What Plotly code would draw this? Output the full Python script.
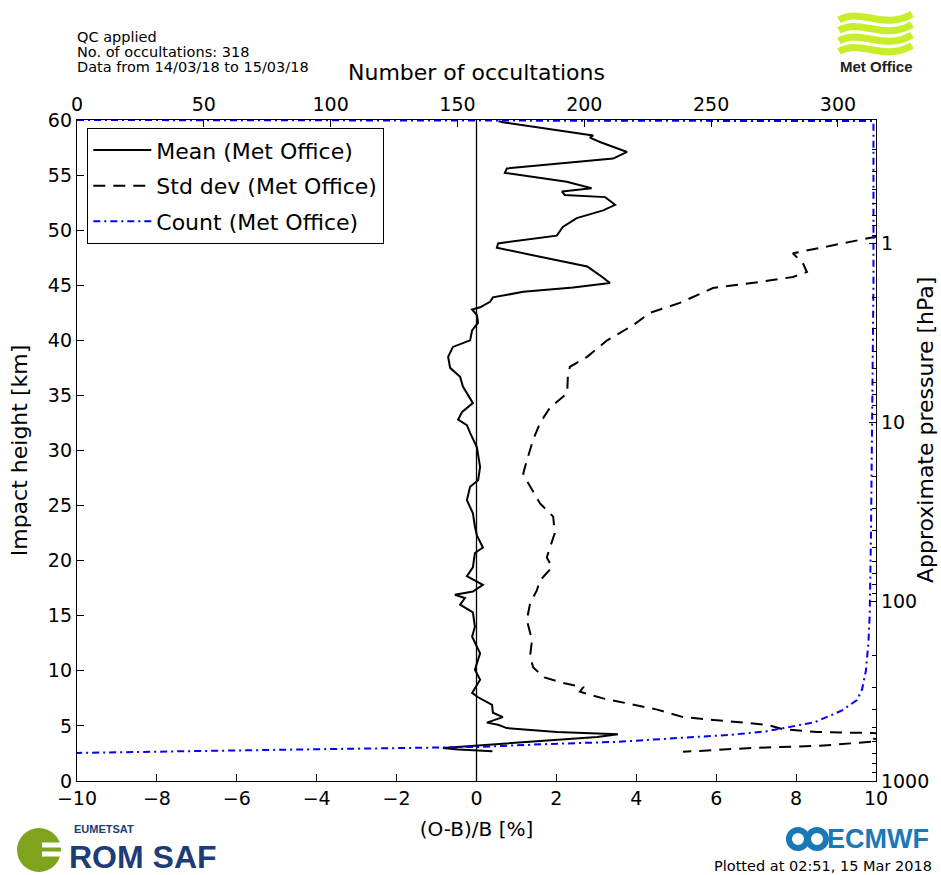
import plotly.graph_objects as go

# ---------------- data ----------------
mean_h = [59.9, 59.8, 58.6, 58.4, 58.0, 57.1, 56.5, 55.6, 55.2, 54.4, 53.8, 53.5, 53.2, 53.0,
          52.3, 51.8, 51.1, 50.3, 49.5, 49.3, 48.8, 48.4, 47.6, 46.7, 45.9, 45.2, 44.8, 44.4,
          43.9, 43.5, 43.0, 42.8, 42.3, 41.6, 40.9, 40.0, 39.4, 38.5, 37.5, 36.7, 35.8, 34.3,
          33.5, 32.8, 32.3, 31.6, 30.3, 28.5, 27.3, 26.7, 25.5, 24.3, 23.1, 22.3, 21.2, 20.7,
          19.4, 18.6, 17.8, 17.2, 16.9, 16.6, 16.0, 15.3, 14.0, 13.1, 12.2, 11.6, 10.1, 9.2,
          8.0, 7.6, 6.9, 6.2, 5.8, 5.3, 5.1, 4.8, 4.45, 4.35, 4.25, 4.0, 3.45, 3.27, 3.0,
          2.85, 2.7]
mean_v = [0.55, 0.66, 2.92, 2.84, 3.09, 3.77, 3.42, 0.76, 0.71, 2.26, 2.88, 2.14, 2.21, 3.22,
          3.47, 3.17, 2.51, 2.16, 2.01, 1.59, 0.54, 0.51, 1.59, 2.77, 3.09, 3.34, 2.42, 1.17,
          0.41, 0.34, 0.09, -0.11, 0.01, 0.04, -0.11, -0.16, -0.59, -0.71, -0.66, -0.41, -0.34,
          -0.09, -0.36, -0.46, -0.24, -0.16, 0.01, 0.09, 0.04, -0.16, -0.24, -0.09, -0.04, 0.01,
          0.16, -0.04, -0.09, -0.24, 0.16, -0.09, -0.54, -0.29, -0.41, -0.09, -0.04, -0.11,
          0.01, 0.09, -0.04, 0.09, -0.11, 0.04, 0.39, 0.41, 0.66, 0.26, 0.54, 0.76, 2.01, 3.02,
          3.54, 3.02, 0.76, 0.01, -0.84, -0.45, 0.4]

std_h = [50.5, 49.4, 48.7, 47.9, 47.0, 46.2, 45.75, 45.3, 44.75, 44.1, 43.4, 42.5, 41.4, 40.0,
         38.5, 37.6, 37.0, 35.2, 33.9, 32.5, 31.0, 29.1, 27.9, 27.0, 26.2, 25.2, 24.0, 22.5,
         21.2, 20.3, 19.4, 18.2, 17.3, 16.1, 14.6, 12.8, 11.3, 10.3, 9.4, 8.9, 8.5, 8.1, 7.5,
         6.9, 6.5, 5.8, 5.5, 5.1, 4.7, 4.45, 4.35, 4.25, 4.0, 3.85, 3.7, 3.55, 3.4, 3.2, 3.0,
         2.65]
std_v = [11.5, 10.0, 9.02, 7.92, 8.17, 8.27, 7.92, 7.1, 5.92, 5.52, 5.09, 4.34, 3.93, 3.27,
         2.77, 2.34, 2.29, 2.27, 1.84, 1.59, 1.42, 1.26, 1.17, 1.3, 1.42, 1.59, 1.92, 1.96,
         1.84, 1.76, 1.89, 1.59, 1.51, 1.34, 1.26, 1.39, 1.34, 1.42, 1.7, 2.16, 2.67, 2.59,
         3.17, 4.02, 4.5, 5.17, 6.02, 7.27, 7.67, 8.52, 9.92, 10.5, 10.6, 9.9, 10.4, 9.8, 9.3,
         8.6, 6.9, 5.17]

count_h = [60.0, 59.9, 45.0, 30.0, 22.0, 15.0, 12.5, 10.0, 8.9, 8.3, 7.35, 6.4, 5.35, 4.8,
           4.5, 4.2, 3.9, 3.55, 3.36, 3.1, 2.85, 2.55]
count_v = [0, 314, 314, 313.5, 313, 312.5, 312, 311, 310, 309.5, 307.5, 301.6, 291, 278, 271.6,
           258, 238.6, 212.6, 186, 160, 85, 0]

x_ticks = [-10, -8, -6, -4, -2, 0, 2, 4, 6, 8, 10]
count_ticks = [0, 50, 100, 150, 200, 250, 300]
height_ticks = list(range(0, 61, 5))
p_ticks = [1, 10, 100, 1000]
p_minor = [m * d for d in (0.1, 1, 10, 100) for m in range(2, 10) if 0.2 < m * d < 1000]

KM_PER_DECADE = 16.27
FONT = "DejaVu Sans"

# plot-area pixel geometry (for decorations only)
L, R, T, B = 77, 876, 120, 781


def px(x):
    return (x - L) / (R - L)


def py(y):
    return (B - y) / (B - T)


fig = go.Figure()
fig.add_trace(go.Scatter(x=mean_v, y=mean_h, mode="lines", name="Mean (Met Office)",
                         line=dict(color="black", width=2), legendgroup="a"))
fig.add_trace(go.Scatter(x=std_v, y=std_h, mode="lines", name="Std dev (Met Office)",
                         line=dict(color="black", width=2, dash="12px,8px"), legendgroup="b"))
fig.add_trace(go.Scatter(x=count_v, y=count_h, mode="lines", name="Count (Met Office)",
                         xaxis="x2", yaxis="y",
                         line=dict(color="blue", width=2, dash="7px,4px,2px,4px"), legendgroup="c"))
# empty trace so that the pressure axis is drawn
fig.add_trace(go.Scatter(x=[], y=[], xaxis="x", yaxis="y2", showlegend=False,
                         hoverinfo="skip", mode="lines"))

axis_common = dict(showgrid=False, zeroline=False, showline=True, linecolor="black",
                   linewidth=1.3, ticks="inside", ticklen=7, tickcolor="black", automargin=False,
                   tickfont=dict(family=FONT, size=19, color="black"))

fig.update_layout(
    width=941, height=875, autosize=False,
    margin=dict(l=L, r=941 - R, t=T, b=875 - B),
    paper_bgcolor="white", plot_bgcolor="white",
    font=dict(family=FONT, color="black"),
    xaxis=dict(range=[-10, 10], tickvals=x_ticks, **axis_common,
               title=dict(text="(O-B)/B [%]", font=dict(family=FONT, size=20), standoff=14)),
    xaxis2=dict(range=[0, 315], tickvals=count_ticks, overlaying="x", side="top", anchor="y",
                **axis_common,
                title=dict(text="Number of occultations", font=dict(family=FONT, size=22),
                           standoff=6)),
    yaxis=dict(range=[0, 60], tickvals=height_ticks, **axis_common,
               title=dict(text="Impact height [km]", font=dict(family=FONT, size=22),
                          standoff=14)),
    yaxis2=dict(type="log", range=[3, 3 - 60 / KM_PER_DECADE], overlaying="y", side="right",
                anchor="x", tickvals=p_ticks, ticktext=[str(v) for v in p_ticks],
                minor=dict(tickvals=p_minor, ticks="inside", ticklen=4, tickcolor="black"),
                **axis_common),
    showlegend=True,
    legend=dict(x=px(87), y=py(128), xanchor="left", yanchor="top",
                bgcolor="white", bordercolor="black", borderwidth=1.3,
                font=dict(family=FONT, size=22), tracegroupgap=4,
                itemwidth=58),
)

# pressure axis title
fig.add_annotation(text="Approximate pressure [hPa]", xref="paper", yref="paper",
                   x=px(925), y=py(430), textangle=-90, xanchor="center", yanchor="middle",
                   showarrow=False, font=dict(family=FONT, size=22, color="black"))

# zero line
fig.add_shape(type="line", xref="x", yref="paper", x0=0, x1=0, y0=0, y1=1,
              line=dict(color="black", width=1.3))

# header texts
for txt, y in [("QC applied", 37), ("No. of occultations: 318", 52),
               ("Data from 14/03/18 to 15/03/18", 67)]:
    fig.add_annotation(text=txt, xref="paper", yref="paper", x=px(75), y=py(y),
                       xanchor="left", yanchor="middle", showarrow=False,
                       font=dict(family=FONT, size=14.5, color="black"))

fig.add_annotation(text="Plotted at 02:51, 15 Mar 2018", xref="paper", yref="paper",
                   x=px(934), y=py(866), xanchor="right", yanchor="middle", showarrow=False,
                   font=dict(family=FONT, size=14.5, color="black"))

# ---- Met Office logo ----
lime = "#c8ee2a"
for k in range(4):
    y0 = 17 + 10.5 * k
    pts = [(839, y0 + 3), (860, y0 - 10), (884, y0 + 14), (912, y0 - 3)]
    path = "M {},{} C {},{} {},{} {},{}".format(
        px(pts[0][0]), py(pts[0][1]), px(pts[1][0]), py(pts[1][1]),
        px(pts[2][0]), py(pts[2][1]), px(pts[3][0]), py(pts[3][1]))
    fig.add_shape(type="path", path=path, xref="paper", yref="paper",
                  line=dict(color=lime, width=7))
fig.add_annotation(text="<b>Met Office</b>", xref="paper", yref="paper", x=px(876), y=py(66),
                   xanchor="center", yanchor="middle", showarrow=False,
                   font=dict(family="Liberation Sans", size=15, color="#222222"))

# ---- ROM SAF logo ----
green = "#7fa31c"
navy = "#1d3c78"
fig.add_shape(type="circle", xref="paper", yref="paper", x0=px(17), x1=px(61),
              y0=py(872), y1=py(828), fillcolor=green, line=dict(width=0))
for yy in (845, 854):
    fig.add_shape(type="rect", xref="paper", yref="paper", x0=px(42), x1=px(64),
                  y0=py(yy + 2.5), y1=py(yy - 2.5), fillcolor="white", line=dict(width=0))
fig.add_annotation(text="<b>EUMETSAT</b>", xref="paper", yref="paper", x=px(72), y=py(829),
                   xanchor="left", yanchor="middle", showarrow=False,
                   font=dict(family="Liberation Sans Narrow, Liberation Sans", size=11, color=navy))
fig.add_annotation(text="<b>ROM SAF</b>", xref="paper", yref="paper", x=px(67), y=py(857),
                   xanchor="left", yanchor="middle", showarrow=False,
                   font=dict(family="Liberation Sans", size=32, color=navy))

# ---- ECMWF logo ----
eblue = "#1a78b6"
for cx in (798, 817):
    fig.add_shape(type="circle", xref="paper", yref="paper", x0=px(cx - 9), x1=px(cx + 9),
                  y0=py(848), y1=py(830), line=dict(color=eblue, width=6))
fig.add_annotation(text="<b>ECMWF</b>", xref="paper", yref="paper", x=px(931), y=py(839),
                   xanchor="right", yanchor="middle", showarrow=False,
                   font=dict(family="Liberation Sans", size=27, color=eblue))

fig.write_html("out.html", config={"displayModeBar": False},
               post_script="document.body.style.margin='0px';")
